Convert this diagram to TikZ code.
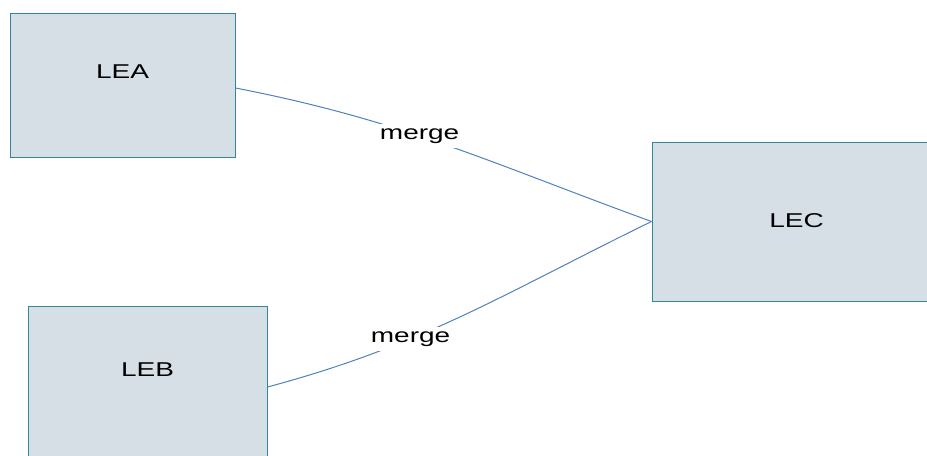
\documentclass[tikz,border=0pt]{standalone}
\usepackage{fontspec}
\setmainfont{Liberation Sans}
\definecolor{boxfill}{HTML}{D6DFE6}
\definecolor{boxline}{HTML}{31849B}
\definecolor{linkline}{HTML}{4F81BD}
\begin{document}
\begin{tikzpicture}[x=.75pt,y=.75pt,
  box/.style={draw=boxline,fill=boxfill,line width=.75pt,inner sep=0pt},
  lbl/.style={font=\fontsize{15}{18}\selectfont,xscale=1.4},
  link/.style={draw=linkline,line width=.75pt}]
\clip (0,0) rectangle (927,455);
\fill[white] (0,0) rectangle (927,455);
% the three boxes
\node[box,minimum width=168.75pt,minimum height=108pt,
  label={[lbl,yshift=9.75pt]center:LEA}] (lea) at (122.5,370) {};
\node[box,minimum width=179.25pt,minimum height=117pt,
  label={[lbl,yshift=10.9pt]center:LEB}] (leb) at (147.5,71) {};
\node[box,minimum width=216.75pt,minimum height=119.25pt,
  label={[lbl,yshift=.75pt]center:LEC}] (lec) at (796.5,233.5) {};
% merges
\draw[link] ([yshift=-2.25pt]lea.east) to[out=-11,in=160]
  node[pos=.43,lbl,fill=white,inner sep=3.5pt] {merge} (lec.west);
\draw[link] ([yshift=-2.25pt]leb.east) to[out=15,in=206]
  node[pos=.35,lbl,fill=white,inner sep=3.5pt] {merge} (lec.west);
\end{tikzpicture}
\end{document}
